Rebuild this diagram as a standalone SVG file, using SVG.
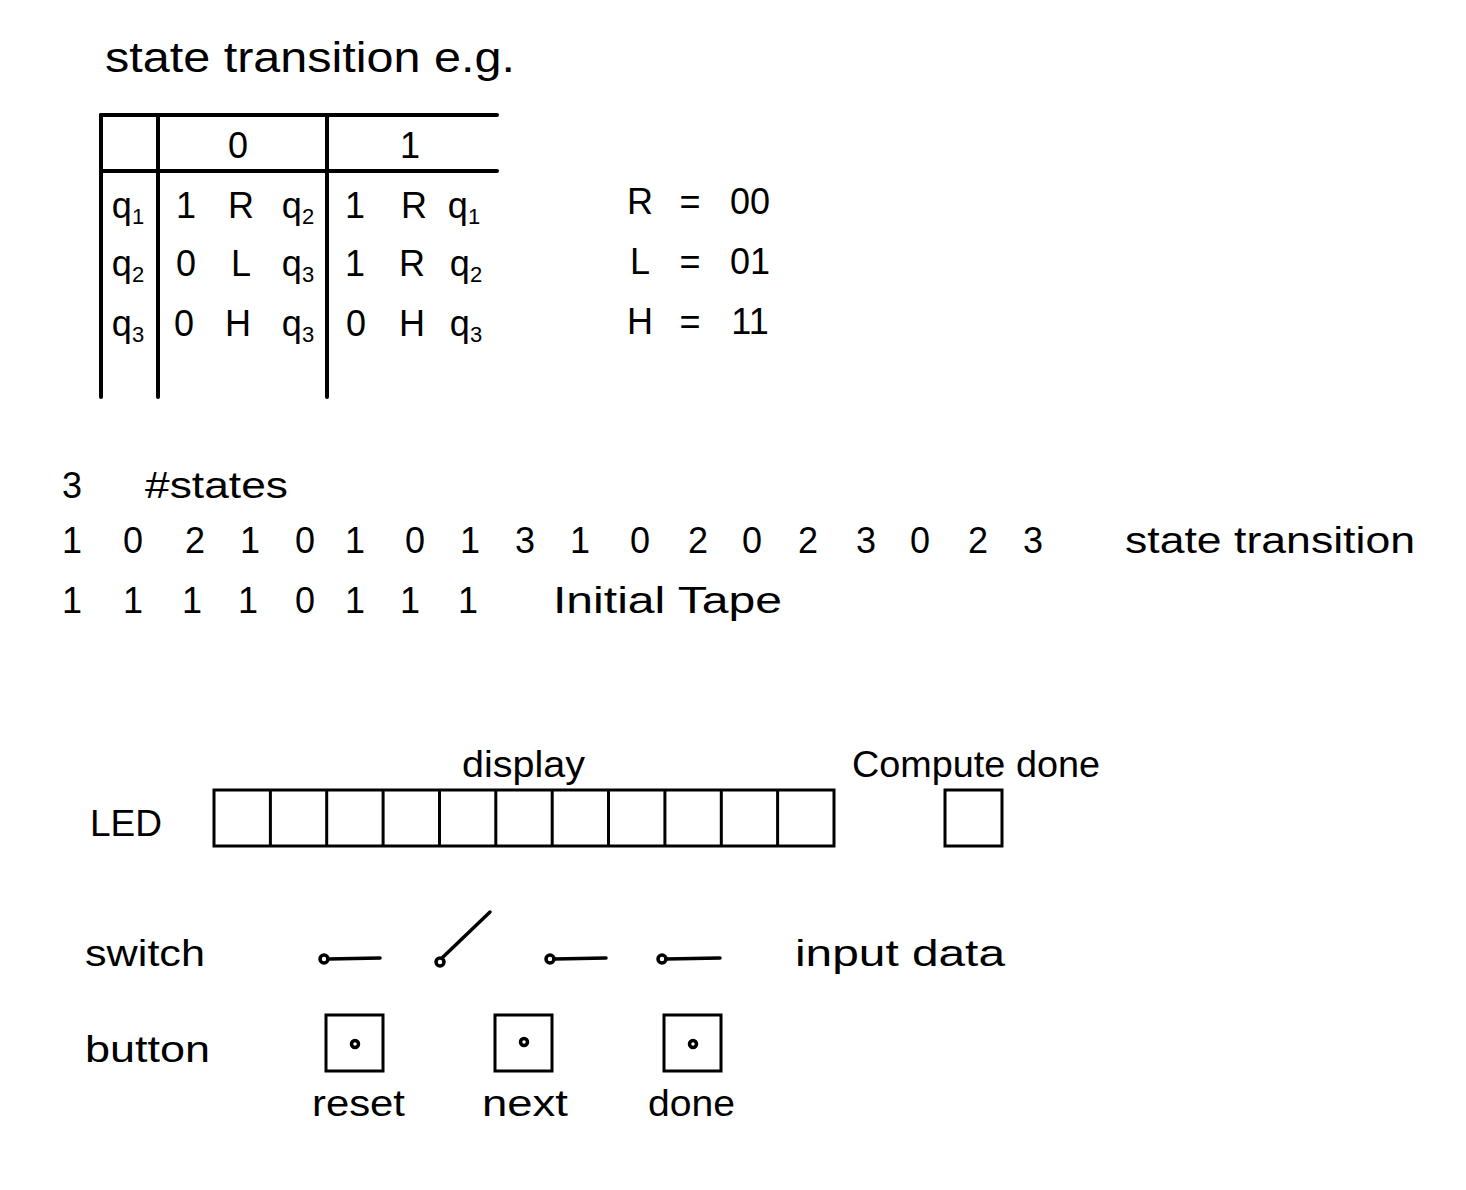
<svg xmlns="http://www.w3.org/2000/svg" width="1466" height="1190" viewBox="0 0 1466 1190">
<style>
text{font-family:"Liberation Sans","DejaVu Sans",sans-serif;fill:#000}
.t{font-size:42px}
.m{font-size:36px;text-anchor:middle}
.s{font-size:36px;text-anchor:start}
.ln{stroke:#000;stroke-width:4;stroke-linecap:round;fill:none}
.bx{stroke:#000;stroke-width:3;fill:none}
.sw{stroke:#000;stroke-width:3.5;stroke-linecap:round;fill:none}
</style>
<rect width="1466" height="1190" fill="#fff"/>
<g id="title"><text class="t" x="105" y="72" textLength="410" lengthAdjust="spacingAndGlyphs">state transition e.g.</text></g>
<g id="table">
<line class="ln" x1="101" y1="115" x2="497" y2="115"/>
<line class="ln" x1="101" y1="171" x2="497" y2="171"/>
<line class="ln" x1="101" y1="115" x2="101" y2="397"/>
<line class="ln" x1="158" y1="115" x2="158" y2="397"/>
<line class="ln" x1="327" y1="115" x2="327" y2="397"/>
<text class="m" x="238" y="158">0</text>
<text class="m" x="410" y="158">1</text>
<text class="m" x="128" y="218">q<tspan font-size="22" dy="6">1</tspan></text>
<text class="m" x="186" y="218">1</text>
<text class="m" x="241" y="218">R</text>
<text class="m" x="298" y="218">q<tspan font-size="22" dy="6">2</tspan></text>
<text class="m" x="355" y="218">1</text>
<text class="m" x="414" y="218">R</text>
<text class="m" x="464" y="218">q<tspan font-size="22" dy="6">1</tspan></text>
<text class="m" x="128" y="276">q<tspan font-size="22" dy="6">2</tspan></text>
<text class="m" x="186" y="276">0</text>
<text class="m" x="241" y="276">L</text>
<text class="m" x="298" y="276">q<tspan font-size="22" dy="6">3</tspan></text>
<text class="m" x="355" y="276">1</text>
<text class="m" x="412" y="276">R</text>
<text class="m" x="466" y="276">q<tspan font-size="22" dy="6">2</tspan></text>
<text class="m" x="128" y="336">q<tspan font-size="22" dy="6">3</tspan></text>
<text class="m" x="184" y="336">0</text>
<text class="m" x="238" y="336">H</text>
<text class="m" x="298" y="336">q<tspan font-size="22" dy="6">3</tspan></text>
<text class="m" x="356" y="336">0</text>
<text class="m" x="412" y="336">H</text>
<text class="m" x="466" y="336">q<tspan font-size="22" dy="6">3</tspan></text>
</g>
<g id="codes">
<text class="m" x="640" y="214">R</text><text class="m" x="690" y="214">=</text><text class="m" x="750" y="214">00</text>
<text class="m" x="640" y="274">L</text><text class="m" x="690" y="274">=</text><text class="m" x="750" y="274">01</text>
<text class="m" x="640" y="334">H</text><text class="m" x="690" y="334">=</text><text class="m" x="750" y="334">11</text>
</g>
<g id="states">
<text class="m" x="72" y="498">3</text>
<text class="s" x="145" y="498" textLength="143" lengthAdjust="spacingAndGlyphs">#states</text>
</g>
<g id="transition-row">
<text class="m" x="72" y="553">1</text>
<text class="m" x="133" y="553">0</text>
<text class="m" x="195" y="553">2</text>
<text class="m" x="250" y="553">1</text>
<text class="m" x="305" y="553">0</text>
<text class="m" x="355" y="553">1</text>
<text class="m" x="415" y="553">0</text>
<text class="m" x="470" y="553">1</text>
<text class="m" x="525" y="553">3</text>
<text class="m" x="580" y="553">1</text>
<text class="m" x="640" y="553">0</text>
<text class="m" x="698" y="553">2</text>
<text class="m" x="752" y="553">0</text>
<text class="m" x="808" y="553">2</text>
<text class="m" x="866" y="553">3</text>
<text class="m" x="920" y="553">0</text>
<text class="m" x="978" y="553">2</text>
<text class="m" x="1033" y="553">3</text>
<text class="s" x="1125" y="553" textLength="290" lengthAdjust="spacingAndGlyphs">state transition</text>
</g>
<g id="tape-row">
<text class="m" x="72" y="613">1</text>
<text class="m" x="133" y="613">1</text>
<text class="m" x="192" y="613">1</text>
<text class="m" x="248" y="613">1</text>
<text class="m" x="305" y="613">0</text>
<text class="m" x="355" y="613">1</text>
<text class="m" x="410" y="613">1</text>
<text class="m" x="468" y="613">1</text>
<text class="s" x="553" y="613" textLength="229" lengthAdjust="spacingAndGlyphs">Initial Tape</text>
</g>
<g id="led">
<text class="s" x="462" y="777" textLength="123" lengthAdjust="spacingAndGlyphs">display</text>
<text class="s" x="90" y="836" textLength="72" lengthAdjust="spacingAndGlyphs">LED</text>
<rect class="bx" x="214" y="790" width="620" height="56"/>
<line class="bx" x1="270.4" y1="790" x2="270.4" y2="846"/>
<line class="bx" x1="326.7" y1="790" x2="326.7" y2="846"/>
<line class="bx" x1="383.1" y1="790" x2="383.1" y2="846"/>
<line class="bx" x1="439.5" y1="790" x2="439.5" y2="846"/>
<line class="bx" x1="495.8" y1="790" x2="495.8" y2="846"/>
<line class="bx" x1="552.2" y1="790" x2="552.2" y2="846"/>
<line class="bx" x1="608.5" y1="790" x2="608.5" y2="846"/>
<line class="bx" x1="664.9" y1="790" x2="664.9" y2="846"/>
<line class="bx" x1="721.3" y1="790" x2="721.3" y2="846"/>
<line class="bx" x1="777.6" y1="790" x2="777.6" y2="846"/>
</g>
<g id="compute-done">
<text class="s" x="852" y="777" textLength="248" lengthAdjust="spacingAndGlyphs">Compute done</text>
<rect class="bx" x="945" y="790" width="57" height="56"/>
</g>
<g id="switches">
<text class="s" x="85" y="966" textLength="120" lengthAdjust="spacingAndGlyphs">switch</text>
<circle class="sw" cx="324" cy="959" r="4"/><line class="sw" x1="328" y1="959" x2="380" y2="958"/>
<circle class="sw" cx="440" cy="962" r="4"/><line class="sw" x1="442" y1="958" x2="490" y2="912"/>
<circle class="sw" cx="550" cy="959" r="4"/><line class="sw" x1="554" y1="959" x2="606" y2="958"/>
<circle class="sw" cx="662" cy="959" r="4"/><line class="sw" x1="666" y1="959" x2="720" y2="958"/>
<text class="s" x="795" y="966" textLength="210" lengthAdjust="spacingAndGlyphs">input data</text>
</g>
<g id="buttons">
<text class="s" x="85" y="1062" textLength="125" lengthAdjust="spacingAndGlyphs">button</text>
<rect class="bx" x="326" y="1015" width="57" height="56"/><circle class="sw" cx="355" cy="1044" r="3.5"/>
<rect class="bx" x="495" y="1015" width="57" height="56"/><circle class="sw" cx="524" cy="1042" r="3.5"/>
<rect class="bx" x="664" y="1015" width="57" height="56"/><circle class="sw" cx="693" cy="1044" r="3.5"/>
<text class="s" x="312" y="1116" textLength="93" lengthAdjust="spacingAndGlyphs">reset</text>
<text class="s" x="482" y="1116" textLength="86" lengthAdjust="spacingAndGlyphs">next</text>
<text class="s" x="648" y="1116" textLength="87" lengthAdjust="spacingAndGlyphs">done</text>
</g>
</svg>
